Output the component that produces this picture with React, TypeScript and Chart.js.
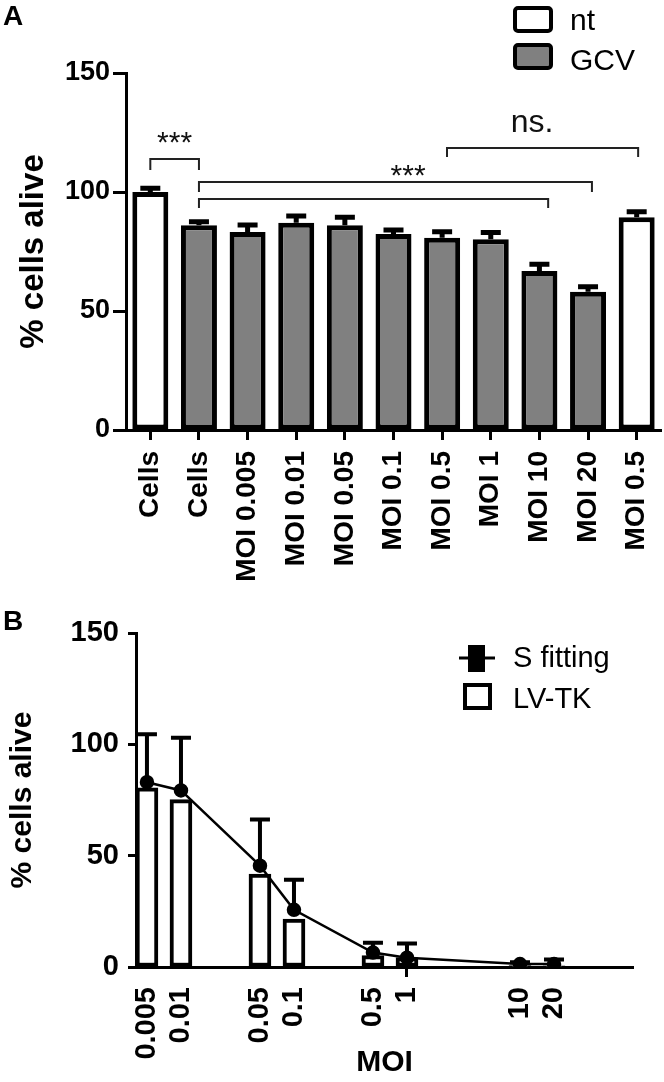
import React, { useEffect, useRef } from 'react';
import { Chart, registerables } from 'chart.js';

Chart.register(...registerables);

const FONT = "'Liberation Sans', Arial, Helvetica, sans-serif";

// ---------- Panel A data ----------
const categoriesA = ['Cells', 'Cells', 'MOI 0.005', 'MOI 0.01', 'MOI 0.05', 'MOI 0.1', 'MOI 0.5', 'MOI 1', 'MOI 10', 'MOI 20', 'MOI 0.5'];
const ntValues = [100, null, null, null, null, null, null, null, null, null, 89.4];
const ntErrors = [1.6, null, null, null, null, null, null, null, null, null, 2.3];
const gcvValues = [null, 86.0, 83.2, 87.1, 86.0, 82.4, 80.8, 80.1, 66.8, 58.1, null];
const gcvErrors = [null, 1.5, 2.9, 2.8, 3.4, 1.6, 2.5, 2.9, 2.8, 2.1, null];
const seriesNamesA = ['nt', 'GCV'];
const seriesColorsA = ['#ffffff', '#808080'];

// significance brackets (category index units / value units)
const bracketFrom = [0, 1, 1, 6.1];
const bracketTo = [1, 9.08, 8.18, 10.03];
const bracketTop = [113.9, 104.2, 97.1, 118.5];
const bracketLegEnd = [109.2, 100.0, 93.3, 114.7];
const bracketLabels = ['***', '***', '', 'ns.'];
const bracketLabelX = [0.5, 5.3, 0, 7.85];
const bracketLabelY = [116.8, 102.9, 0, 125.2];

// ---------- Panel B data ----------
const moiValues = [0.005, 0.01, 0.05, 0.1, 0.5, 1, 10, 20];
const moiLabels = ['0.005', '0.01', '0.05', '0.1', '0.5', '1', '10', '20'];
const lvtkValues = [80.5, 75.2, 41.7, 21.5, 5.1, 4.2, 0.6, 0.5];
const sFitValues = [83.0, 79.3, 45.5, 25.7, 6.5, 4.2, 1.3, 1.3];
const sFitErrors = [21.5, 23.7, 20.7, 13.5, 4.4, 6.4, 0.8, 2.1];
const seriesNamesB = ['S fitting', 'LV-TK'];

const errorBarsA = {
  id: 'errorBarsA',
  afterDatasetsDraw(chart: any) {
    const { ctx, scales } = chart;
    const x = scales.x;
    const y = scales.y;
    ctx.save();
    ctx.strokeStyle = '#000';
    ctx.lineWidth = 5;
    const draw = (vals: any[], errs: any[]) => {
      vals.forEach((v, i) => {
        if (v == null || errs[i] == null) return;
        const px = x.getPixelForValue(i);
        const y0 = y.getPixelForValue(v);
        const y1 = y.getPixelForValue(v + errs[i]);
        ctx.beginPath();
        ctx.moveTo(px, y0);
        ctx.lineTo(px, y1);
        ctx.moveTo(px - 10, y1);
        ctx.lineTo(px + 10, y1);
        ctx.stroke();
      });
    };
    draw(ntValues, ntErrors);
    draw(gcvValues, gcvErrors);
    ctx.restore();
  },
};

const bracketsA = {
  id: 'bracketsA',
  afterDraw(chart: any) {
    const { ctx, scales } = chart;
    const x = scales.x;
    const y = scales.y;
    ctx.save();
    ctx.strokeStyle = '#222';
    ctx.lineWidth = 2;
    bracketFrom.forEach((f, i) => {
      const x0 = x.getPixelForValue(f);
      const x1 = x.getPixelForValue(bracketTo[i]);
      const yt = y.getPixelForValue(bracketTop[i]);
      const yl = y.getPixelForValue(bracketLegEnd[i]);
      ctx.beginPath();
      ctx.moveTo(x0, yl);
      ctx.lineTo(x0, yt);
      ctx.lineTo(x1, yt);
      ctx.lineTo(x1, yl);
      ctx.stroke();
      const label = bracketLabels[i];
      if (label) {
        ctx.fillStyle = '#111';
        ctx.textAlign = 'center';
        ctx.textBaseline = 'alphabetic';
        ctx.font = label === 'ns.' ? `32px ${FONT}` : `30px ${FONT}`;
        ctx.fillText(label, x.getPixelForValue(bracketLabelX[i]), y.getPixelForValue(bracketLabelY[i]));
      }
    });
    ctx.restore();
  },
};

const legendA = {
  id: 'legendA',
  afterDraw(chart: any) {
    const { ctx } = chart;
    ctx.save();
    ctx.fillStyle = '#000';
    ctx.font = `bold 28px ${FONT}`;
    ctx.textAlign = 'left';
    ctx.textBaseline = 'alphabetic';
    ctx.fillText('A', 3, 25);
    const boxTops = [8, 45];
    const baselines = [30, 70];
    seriesNamesA.forEach((name, i) => {
      ctx.fillStyle = seriesColorsA[i];
      ctx.strokeStyle = '#000';
      ctx.lineWidth = 4;
      ctx.beginPath();
      ctx.roundRect(515, boxTops[i], 36, 23, 3);
      ctx.fill();
      ctx.stroke();
      ctx.fillStyle = '#000';
      ctx.font = `30px ${FONT}`;
      ctx.fillText(name, 570, baselines[i]);
    });
    ctx.restore();
  },
};

const errorBarsB = {
  id: 'errorBarsB',
  afterDatasetsDraw(chart: any) {
    const { ctx, scales } = chart;
    const x = scales.x;
    const y = scales.y;
    ctx.save();
    ctx.strokeStyle = '#000';
    ctx.lineWidth = 4;
    moiValues.forEach((m, i) => {
      const px = x.getPixelForValue(m);
      const y0 = y.getPixelForValue(sFitValues[i]);
      const y1 = y.getPixelForValue(sFitValues[i] + sFitErrors[i]);
      ctx.beginPath();
      ctx.moveTo(px, y0);
      ctx.lineTo(px, y1);
      ctx.moveTo(px - 10, y1);
      ctx.lineTo(px + 10, y1);
      ctx.stroke();
    });
    ctx.restore();
  },
};

const legendB = {
  id: 'legendB',
  afterDraw(chart: any) {
    const { ctx } = chart;
    ctx.save();
    ctx.fillStyle = '#000';
    ctx.font = `bold 28px ${FONT}`;
    ctx.textAlign = 'left';
    ctx.textBaseline = 'alphabetic';
    ctx.fillText('B', 3, 30);
    // S fitting marker
    ctx.strokeStyle = '#000';
    ctx.lineWidth = 3;
    ctx.beginPath();
    ctx.moveTo(459, 58);
    ctx.lineTo(495, 58);
    ctx.stroke();
    ctx.fillRect(468, 45, 17, 27);
    // LV-TK box
    ctx.fillStyle = '#fff';
    ctx.lineWidth = 4;
    ctx.beginPath();
    ctx.rect(465, 85, 25, 23);
    ctx.fill();
    ctx.stroke();
    ctx.fillStyle = '#000';
    ctx.font = `29px ${FONT}`;
    ctx.fillText(seriesNamesB[0], 513, 67);
    ctx.fillText(seriesNamesB[1], 513, 108);
    ctx.restore();
  },
};

const tickFont = (size: number) => ({ family: FONT, size, weight: 'bold' as const });

export default function App() {
  const refA = useRef<HTMLCanvasElement>(null);
  const refB = useRef<HTMLCanvasElement>(null);

  useEffect(() => {
    const chartA = new Chart(refA.current as HTMLCanvasElement, {
      type: 'bar',
      data: {
        labels: categoriesA,
        datasets: [
          { label: seriesNamesA[0], data: ntValues as any, backgroundColor: seriesColorsA[0], borderColor: '#000', borderWidth: 5, borderSkipped: false, skipNull: true, categoryPercentage: 0.8, barPercentage: 0.925 } as any,
          { label: seriesNamesA[1], data: gcvValues as any, backgroundColor: seriesColorsA[1], borderColor: '#000', borderWidth: 5, borderSkipped: false, skipNull: true, categoryPercentage: 0.8, barPercentage: 0.925 } as any,
        ],
      },
      options: {
        responsive: false,
        animation: false,
        layout: { padding: { top: 73, right: 3, left: 0, bottom: 0 } },
        plugins: { legend: { display: false }, tooltip: { enabled: false } },
        scales: {
          x: {
            grid: { offset: false, drawOnChartArea: false, drawTicks: true, tickLength: 10, tickWidth: 3, tickColor: '#000' },
            border: { display: true, color: '#000', width: 3 },
            ticks: { color: '#000', font: tickFont(28), minRotation: 90, maxRotation: 90, autoSkip: false, padding: 11 },
            afterFit: (s: any) => { s.height = 170; s.paddingLeft = 0; s.paddingRight = 0; },
          },
          y: {
            min: 0,
            max: 150,
            grid: { drawOnChartArea: false, drawTicks: true, tickLength: 13, tickWidth: 3, tickColor: '#000' },
            border: { display: true, color: '#000', width: 3 },
            ticks: { stepSize: 50, color: '#000', font: tickFont(27), padding: 3 },
            title: { display: true, text: '% cells alive', color: '#000', font: { family: FONT, size: 33, weight: 'bold' }, padding: { top: 14, bottom: 0 } },
            afterFit: (s: any) => { s.width = 126; },
          },
        },
      } as any,
      plugins: [errorBarsA, bracketsA, legendA],
    });

    const chartB = new Chart(refB.current as HTMLCanvasElement, {
      type: 'bar',
      data: {
        datasets: [
          {
            type: 'line',
            label: seriesNamesB[0],
            data: moiValues.map((m, i) => ({ x: m, y: sFitValues[i] })),
            borderColor: '#000',
            borderWidth: 2.5,
            pointRadius: 6,
            pointBackgroundColor: '#000',
            pointBorderColor: '#000',
            order: 0,
          } as any,
          {
            type: 'bar',
            label: seriesNamesB[1],
            data: moiValues.map((m, i) => ({ x: m, y: lvtkValues[i] })),
            backgroundColor: '#fff',
            borderColor: '#000',
            borderWidth: 4,
            borderSkipped: false,
            barThickness: 22,
            order: 1,
          } as any,
        ],
      },
      options: {
        responsive: false,
        animation: false,
        layout: { padding: { top: 33, right: 31, left: 0, bottom: 0 } },
        plugins: { legend: { display: false }, tooltip: { enabled: false } },
        scales: {
          x: {
            type: 'logarithmic',
            min: 0.004,
            max: 100,
            offset: false,
            afterBuildTicks: (s: any) => { s.ticks = moiValues.map((v) => ({ value: v })); },
            grid: {
              offset: false,
              drawOnChartArea: false,
              drawTicks: true,
              tickLength: 10,
              tickWidth: 3,
              tickColor: (c: any) => (c.tick && c.tick.value === 1 ? '#000' : 'rgba(0,0,0,0)'),
            },
            border: { display: true, color: '#000', width: 3 },
            ticks: { color: '#000', font: tickFont(29), minRotation: 90, maxRotation: 90, autoSkip: false, padding: 10, callback: (_v: any, i: number) => moiLabels[i] },
            title: { display: true, text: 'MOI', color: '#000', font: { family: FONT, size: 30, weight: 'bold' }, padding: { top: 0, bottom: 1 } },
            afterFit: (s: any) => { s.height = 115; s.paddingLeft = 0; s.paddingRight = 0; },
          },
          y: {
            min: 0,
            max: 150,
            grid: { drawOnChartArea: false, drawTicks: true, tickLength: 8, tickWidth: 3, tickColor: '#000' },
            border: { display: true, color: '#000', width: 3 },
            ticks: { stepSize: 50, color: '#000', font: tickFont(29), padding: 9 },
            title: { display: true, text: '% cells alive', color: '#000', font: { family: FONT, size: 30, weight: 'bold' }, padding: { top: 5, bottom: 0 } },
            afterFit: (s: any) => { s.width = 136; },
          },
        },
      } as any,
      plugins: [errorBarsB, legendB],
    });

    return () => {
      chartA.destroy();
      chartB.destroy();
    };
  }, []);

  return (
    <div style={{ position: 'absolute', left: 0, top: 0, width: 664, height: 1082, background: '#fff' }}>
      <canvas ref={refA} width={664} height={600} style={{ position: 'absolute', left: 0, top: 0, display: 'block' }} />
      <canvas ref={refB} width={664} height={482} style={{ position: 'absolute', left: 0, top: 600, display: 'block' }} />
    </div>
  );
}
